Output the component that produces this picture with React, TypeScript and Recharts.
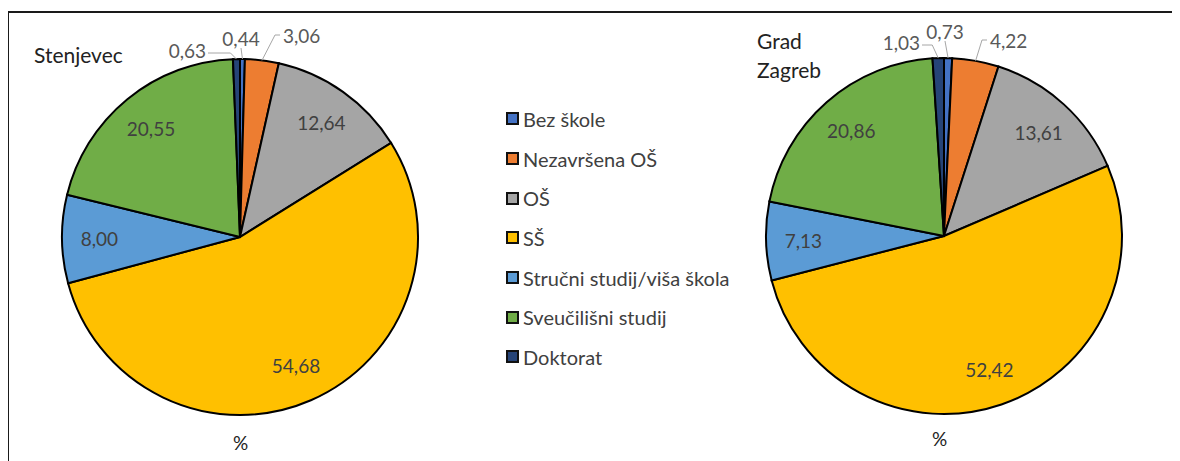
import React from "react"
import { Pie, PieChart, Cell } from "recharts"

// Educational attainment, share of population (%)
const categories = [
  "Bez škole",
  "Nezavršena OŠ",
  "OŠ",
  "SŠ",
  "Stručni studij/viša škola",
  "Sveučilišni studij",
  "Doktorat",
]
const stenjevecValues = [0.44, 3.06, 12.64, 54.68, 8.0, 20.55, 0.63]
const zagrebValues = [0.73, 4.22, 13.61, 52.42, 7.13, 20.86, 1.03]

// Office palette
const COLORS = ["#4472C4", "#ED7D31", "#A5A5A5", "#FFC000", "#5B9BD5", "#70AD47", "#264478"]
const FONT = "Lato, 'Open Sans', sans-serif"
const TEXT = "#404040"
const LEADER = "#a6a6a6"
const R = 178

const stenjevecData = categories.map((name, i) => ({ name, value: stenjevecValues[i] }))
const zagrebData = categories.map((name, i) => ({ name, value: zagrebValues[i] }))

const fmt = (v: number) => v.toFixed(2).replace(".", ",")

type OutLayout = { dx: number; dy: number; anchor: "start" | "middle" | "end" }

// where the small slices' labels sit, relative to the top of the pie
const leftOutside: Record<number, OutLayout> = {
  0: { dx: 1, dy: -21, anchor: "middle" },
  1: { dx: 43, dy: -24, anchor: "start" },
  6: { dx: -34, dy: -9, anchor: "end" },
}
const rightOutside: Record<number, OutLayout> = {
  0: { dx: 1, dy: -27, anchor: "middle" },
  1: { dx: 46, dy: -18, anchor: "start" },
  6: { dx: -24, dy: -16, anchor: "end" },
}

const RAD = Math.PI / 180

function makeLabel(outside: Record<number, OutLayout>) {
  return (props: any) => {
    const { cx, cy, midAngle, outerRadius, value, index } = props
    const lay = outside[index]
    if (!lay) {
      const r = outerRadius * 0.79
      const x = cx + r * Math.cos(-midAngle * RAD)
      const y = cy + r * Math.sin(-midAngle * RAD)
      return (
        <text x={x} y={y} fill={TEXT} fontSize={19} fontFamily={FONT} textAnchor="middle" dominantBaseline="central">
          {fmt(value)}
        </text>
      )
    }
    const px = cx + outerRadius * Math.cos(-midAngle * RAD)
    const py = cy + outerRadius * Math.sin(-midAngle * RAD)
    const tx = cx + lay.dx
    const ty = cy - outerRadius + lay.dy
    let pts = ""
    if (lay.anchor === "end") pts = `${tx + 2},${ty + 3} ${px - 6},${ty + 3} ${px},${py}`
    else if (lay.anchor === "start") pts = `${tx - 3},${ty} ${tx - 8},${ty} ${px},${py}`
    else pts = `${tx},${ty + 10} ${px},${py}`
    return (
      <g>
        <polyline points={pts} fill="none" stroke={LEADER} strokeWidth={1} />
        <text x={tx} y={ty} fill="#595959" fontSize={19} fontFamily={FONT} textAnchor={lay.anchor} dominantBaseline="central">
          {fmt(value)}
        </text>
      </g>
    )
  }
}

function Legend() {
  return (
    <div style={{ position: "absolute", left: 506, top: 99, fontFamily: FONT, fontSize: 20, color: TEXT }}>
      {categories.map((c, i) => (
        <div key={c} style={{ display: "flex", alignItems: "center", height: 39.7 }}>
          <span
            style={{
              display: "inline-block",
              width: 9,
              height: 9,
              background: COLORS[i],
              border: "2px solid #111",
              marginRight: 4,
            }}
          />
          <span>{c}</span>
        </div>
      ))}
    </div>
  )
}

const abs = (s: React.CSSProperties): React.CSSProperties => ({ position: "absolute", ...s })

export default function App() {
  return (
    <div style={{ position: "relative", width: 1180, height: 461, margin: "-8px 0 0 -8px", overflow: "hidden", background: "#fff" }}>
      <div style={abs({ left: 7, top: 11, width: 1173, height: 2, background: "#1a1a1a" })} />
      <div style={abs({ left: 7, top: 11, width: 2, height: 450, background: "#1a1a1a" })} />
      <PieChart
        width={1180}
        height={461}
        margin={{ top: 0, right: 0, bottom: 0, left: 0 }}
        style={{ position: "absolute", left: 0, top: 0 }}
      >
        <Pie
          data={stenjevecData}
          dataKey="value"
          nameKey="name"
          cx={240}
          cy={237}
          outerRadius={R}
          startAngle={90}
          endAngle={-270}
          stroke="#000"
          strokeWidth={2}
          label={makeLabel(leftOutside)}
          labelLine={false}
          isAnimationActive={false}
        >
          {stenjevecData.map((_, i) => (
            <Cell key={i} fill={COLORS[i]} />
          ))}
        </Pie>
        <Pie
          data={zagrebData}
          dataKey="value"
          nameKey="name"
          cx={944}
          cy={236}
          outerRadius={R}
          startAngle={90}
          endAngle={-270}
          stroke="#000"
          strokeWidth={2}
          label={makeLabel(rightOutside)}
          labelLine={false}
          isAnimationActive={false}
        >
          {zagrebData.map((_, i) => (
            <Cell key={i} fill={COLORS[i]} />
          ))}
        </Pie>
      </PieChart>
      <div style={abs({ left: 34, top: 42, fontFamily: FONT, fontSize: 21, color: "#222" })}>Stenjevec</div>
      <div style={abs({ left: 757, top: 26, fontFamily: FONT, fontSize: 21, color: "#222", lineHeight: "29px" })}>
        Grad
        <br />
        Zagreb
      </div>
      <div style={abs({ left: 233, top: 431, fontFamily: FONT, fontSize: 19, color: "#222" })}>%</div>
      <div style={abs({ left: 932, top: 427, fontFamily: FONT, fontSize: 19, color: "#222" })}>%</div>
      <Legend />
    </div>
  )
}
